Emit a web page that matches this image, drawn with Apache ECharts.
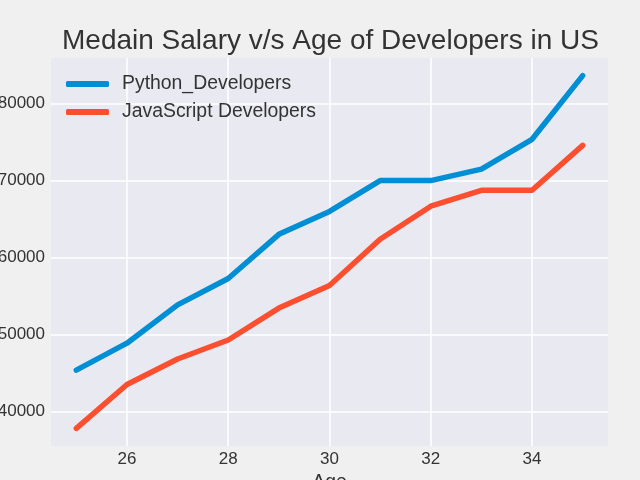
<!DOCTYPE html>
<html><head><meta charset="utf-8">
<script src="https://cdn.jsdelivr.net/npm/echarts@6/dist/echarts.min.js"></script>
<style>html,body{margin:0;padding:0;background:#f0f0f0}#c{width:640px;height:480px}</style>
</head><body><div id="c"></div>
<script>
const ages = [25, 26, 27, 28, 29, 30, 31, 32, 33, 34, 35];
const pyDevY = [45372, 48876, 53850, 57287, 63016, 65998, 70003, 70000, 71496, 75370, 83640];
const jsDevY = [37810, 43515, 46823, 49293, 53437, 56373, 62375, 66674, 68745, 68746, 74583];
const xTicks = [26, 28, 30, 32, 34];
const yTicks = [40000, 50000, 60000, 70000, 80000];
const seriesNames = ['Python_Developers', 'JavaScript Developers'];
const titleText = 'Medain Salary v/s Age of Developers in US';
const xName = 'Age';

const FONT = 'Liberation Sans';
const chart = echarts.init(document.getElementById('c'), null, {renderer: 'canvas'});
const mk = (ys) => ages.map((a, i) => [a, ys[i]]);
chart.setOption({
  backgroundColor: '#f0f0f0',
  animation: false,
  title: {text: titleText, left: 57, top: 22,
    textStyle: {fontFamily: FONT, fontSize: 28, fontWeight: 'normal', color: '#333'}},
  legend: {orient: 'vertical', left: 61, top: 69, icon: 'roundRect', itemWidth: 43, itemHeight: 6, itemGap: 8,
    textStyle: {fontFamily: FONT, fontSize: 19.4, color: '#333', lineHeight: 20, padding: [0,0,0,8]},
    data: seriesNames},
  grid: {left: 51, right: 32, top: 58, bottom: 34, show: true, backgroundColor: '#e9e9f1', borderWidth: 0,
    containLabel: false, outerBoundsMode: 'none'},
  xAxis: {type: 'value', min: 24.5, max: 35.5, name: xName, nameLocation: 'middle', nameGap: 25,
    nameTextStyle: {fontFamily: FONT, fontSize: 19.4, color: '#333'},
    axisLine: {show: false}, axisTick: {show: false, customValues: xTicks},
    axisLabel: {customValues: xTicks, fontFamily: FONT, fontSize: 17, color: '#333', margin: 5,
      formatter: v => String(v)},
    splitLine: {show: true, lineStyle: {color: '#ffffff', width: 1.5}}},
  yAxis: {type: 'value', min: 35518.5, max: 85931.5,
    axisLine: {show: false}, axisTick: {show: false, customValues: yTicks},
    axisLabel: {customValues: yTicks, fontFamily: FONT, fontSize: 17, color: '#333', margin: 6,
      formatter: v => String(v)},
    splitLine: {show: true, lineStyle: {color: '#ffffff', width: 1.5}}},
  series: [
    {name: seriesNames[0], type: 'line', data: mk(pyDevY), symbol: 'none', color: '#008fd5',
      lineStyle: {width: 5.5, cap: 'round', join: 'round'}},
    {name: seriesNames[1], type: 'line', data: mk(jsDevY), symbol: 'none', color: '#fc4f30',
      lineStyle: {width: 5.5, cap: 'round', join: 'round'}}
  ]
});
</script></body></html>
